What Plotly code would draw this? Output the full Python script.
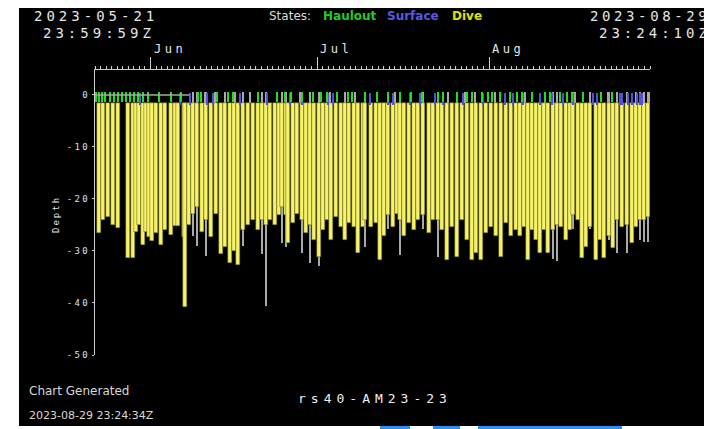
import pandas as pd
import plotly.graph_objects as go

# ---------------- data ----------------
start = "2023-05-22"

dive_days = [0.72, 1.44, 2.34, 3.24, 4.14, 5.95, 6.85, 7.39, 7.93, 8.65, 9.19, 9.73, 10.27, 10.99,
             11.89, 12.61, 13.69, 14.41, 14.95, 16.04, 16.22, 16.94, 17.66, 18.38, 19.28, 20.00, 20.90,
             21.80, 22.70, 23.42, 24.32, 25.05, 25.77, 26.67, 27.57, 28.47, 29.37, 30.09, 30.81, 31.53,
             32.43, 33.15, 33.69, 34.41, 34.77, 35.68, 36.40, 37.30, 38.02, 38.74, 39.46, 40.36, 41.08,
             41.80, 42.52, 43.42, 44.32, 45.05, 45.77, 46.67, 47.39, 48.29, 48.65, 49.73, 50.63, 51.35,
             52.07, 52.79, 53.69, 54.41, 54.95, 55.68, 56.58, 57.48, 58.20, 59.10, 60.18, 60.90, 61.80,
             62.52, 63.42, 64.32, 65.23, 66.13, 67.03, 67.93, 68.65, 69.55, 70.45, 71.35, 72.25, 73.15,
             74.05, 74.95, 75.86, 76.58, 77.30, 78.02, 78.74, 79.46, 80.18, 80.90, 81.62, 82.52, 83.24,
             83.96, 84.86, 85.59, 86.13, 87.03, 87.75, 88.47, 89.19, 90.27, 90.99, 91.71, 92.61, 93.33,
             94.05, 94.95, 95.86, 96.76, 97.48, 98.20, 98.92, 99.64]
dive_depth = [-26.5, -24.0, -23.5, -25.0, -25.6, -31.3, -31.3, -26.3, -25.0, -28.8, -26.3, -27.3, -28.0, -26.5,
              -28.8, -26.0, -27.0, -25.2, -25.2, -27.3, -40.8, -25.0, -22.8, -21.5, -26.3, -24.0, -27.3,
              -22.8, -30.5, -29.3, -32.4, -30.0, -32.7, -26.0, -25.0, -24.0, -26.0, -24.0, -25.0, -24.0,
              -25.0, -23.0, -21.5, -23.0, -28.5, -24.7, -22.8, -24.0, -26.6, -25.0, -27.9, -31.1, -26.0,
              -24.0, -27.9, -23.4, -25.3, -27.9, -24.7, -25.3, -30.4, -25.3, -24.0, -25.3, -24.7, -31.7,
              -27.2, -23.0, -25.3, -22.8, -24.0, -27.2, -24.7, -26.0, -24.0, -23.0, -26.6, -24.0, -24.0,
              -26.0, -31.7, -25.3, -31.1, -24.0, -27.9, -31.7, -30.4, -31.7, -26.6, -25.3, -27.2, -31.1,
              -24.7, -27.2, -26.0, -27.2, -25.3, -31.7, -26.0, -27.9, -30.4, -26.0, -30.4, -26.0, -25.0,
              -25.3, -27.9, -26.0, -23.0, -24.0, -31.4, -29.2, -25.3, -31.7, -27.9, -31.4, -27.2, -29.5,
              -24.0, -25.3, -25.0, -28.5, -25.3, -24.0, -24.0, -23.4]

surface_days = [17.66, 18.38, 19.82, 20.00, 21.62, 23.42, 25.23, 26.67, 27.93, 30.09, 30.81, 33.69, 34.41,
                36.94, 37.30, 38.74, 40.36, 42.34, 45.05, 46.85, 48.65, 52.79, 54.05, 54.95, 59.10, 61.80,
                63.60, 65.23, 66.67, 68.47, 72.07, 77.48, 81.08, 82.52, 83.24, 86.13, 86.49, 89.19, 92.43,
                92.61, 94.05, 95.86, 97.48, 98.20, 98.92, 99.64, 99.82]
surface_depth = [-27.2, -29.0, -1.6, -31.0, -1.6, -1.6, -1.6, -29.0, -1.6, -30.5, -40.5, -28.5, -29.2,
                 -1.6, -30.4, -32.4, -32.8, -1.6, -1.6, -1.6, -29.2, -25.8, -1.6, -30.8, -25.8, -31.1,
                 -1.6, -30.0, -1.6, -1.6, -1.6, -1.6, -1.6, -31.5, -32.0, -25.8, -1.6, -25.8, -1.6,
                 -27.9, -30.4, -30.4, -1.6, -27.9, -28.2, -28.2, -1.6]

haulout_days = [0.18, 0.72, 1.26, 1.80, 2.70, 3.42, 4.14, 4.86, 5.59, 6.31, 7.03, 7.75, 8.65, 9.55, 11.53,
                13.69, 15.50, 18.56, 19.10, 21.98, 23.96, 24.86, 29.37, 32.79, 34.23, 35.32, 37.30, 39.28,
                40.72, 41.80, 43.60, 45.59, 46.31, 48.65, 50.81, 52.79, 54.95, 56.94, 58.92, 61.80, 62.70,
                65.23, 67.03, 67.93, 69.73, 70.81, 71.53, 72.97, 74.77, 76.04, 76.94, 78.74, 81.08, 81.98,
                83.78, 85.05, 85.95, 87.93, 91.17, 93.15]

blue_days = [8.11, 15.32, 17.12, 20.18, 21.26, 26.13, 30.99, 35.14, 37.30, 41.98, 42.88, 49.55, 52.79,
             53.69, 56.76, 58.56, 61.26, 62.70, 66.31, 69.91, 73.87, 75.32, 77.12, 80.18, 82.34, 84.32,
             86.13, 89.73, 90.45, 94.59, 94.95, 96.04, 96.76, 97.66, 98.20, 98.56]

surface_line_days = [0.0, 17.0]

month_ticks = ["2023-06-01", "2023-07-01", "2023-08-01"]
month_labels = ["Jun", "Jul", "Aug"]
depth_ticks = [0, -10, -20, -30, -40, -50]
depth_labels = ["0", "-10", "-20", "-30", "-40", "-50"]

# ---------------- helpers ----------------
DAY_MS = 86400000
t0 = pd.Timestamp(start)


def to_dates(days):
    return [t0 + pd.to_timedelta(d, unit="D") for d in days]


OFF = 8                      # page margin of the html body
W, H = 704, 421
L, R, T, B = 87, 62, 62, 74
PW, PH = W - L - R, H - T - B


def px(x):                   # screen pixel -> paper
    return (x - OFF - L) / PW


def py(y):
    return (H - B - (y - OFF)) / PH


def spaced(s, sp):
    return f'<span style="letter-spacing:{sp}px">{s}</span>'


fig = go.Figure()

# surface (grey)
SURF_TOP = 0.5
fig.add_trace(go.Bar(
    x=to_dates(surface_days), y=[d - SURF_TOP for d in surface_depth], base=SURF_TOP,
    width=0.28 * DAY_MS, marker=dict(color="#a9a9a9", line=dict(width=0)), hoverinfo="skip"))

fig.add_trace(go.Scatter(x=to_dates(surface_line_days), y=[0, 0], mode="lines",
                         line=dict(color="#a9a9a9", width=1.5), hoverinfo="skip"))

# dives (yellow)
DIVE_TOP = -1.6
fig.add_trace(go.Bar(
    x=to_dates(dive_days), y=[d - DIVE_TOP for d in dive_depth], base=DIVE_TOP,
    width=0.72 * DAY_MS,
    marker=dict(color="#f6f26c", line=dict(width=0.5, color="#5e5d14")), hoverinfo="skip"))

# surface short marks (blue)
fig.add_trace(go.Bar(
    x=to_dates(blue_days), y=[-2.0 - 0.4] * len(blue_days), base=0.4,
    width=0.28 * DAY_MS, marker=dict(color="#5252d8", line=dict(width=0)), hoverinfo="skip"))

# haulout (green)
fig.add_trace(go.Bar(
    x=to_dates(haulout_days), y=[-1.3 - 0.6] * len(haulout_days), base=0.6,
    width=0.5 * DAY_MS, marker=dict(color="#1ee01e", line=dict(width=0)), hoverinfo="skip"))

axis_col = "#cfcfcf"
fig.update_layout(
    width=W, height=H, margin=dict(l=L, r=R, t=T, b=B, pad=0),
    paper_bgcolor="white", plot_bgcolor="rgba(0,0,0,0)",
    showlegend=False, barmode="overlay", bargap=0,
    xaxis=dict(type="date", side="top", range=["2023-05-22", "2023-08-30"],
               showgrid=False, zeroline=False, showline=True, linecolor=axis_col, linewidth=1,
               tickmode="array", tickvals=month_ticks, ticks="outside", ticklen=12, tickcolor=axis_col,
               tickwidth=1, showticklabels=False,
               minor=dict(dtick=DAY_MS, tick0="2023-05-22", ticks="outside", ticklen=3,
                          tickcolor=axis_col, tickwidth=1, showgrid=False)),
    yaxis=dict(range=[-50, 4.8], showgrid=False, zeroline=False, showline=True, linecolor=axis_col,
               linewidth=1, tickmode="array", tickvals=depth_ticks,
               ticktext=[spaced(t, 2.4) for t in depth_labels],
               ticks="outside", ticklen=2, tickcolor=axis_col,
               tickfont=dict(family="DejaVu Sans Mono", size=9, color="#e0e0e0")),
)

# black background panel
fig.add_shape(type="rect", xref="paper", yref="paper", x0=px(19), x1=px(712), y0=py(426), y1=py(7),
              fillcolor="black", line=dict(width=0), layer="below")
# bits of blue at bottom edge
for x0, x1 in [(380, 410), (433, 460), (478, 622)]:
    fig.add_shape(type="rect", xref="paper", yref="paper", x0=px(x0), x1=px(x1), y0=py(429), y1=py(426),
                  fillcolor="#2f8ff0", line=dict(width=0), layer="below")

ann = []
mono = "DejaVu Sans Mono"
sans = "DejaVu Sans"


def add_text(text, x, y, size, color="#e6e6e6", family=mono, xanchor="left", angle=0):
    ann.append(dict(text=text, x=px(x), y=py(y), xref="paper", yref="paper", xanchor=xanchor,
                    yanchor="middle", showarrow=False, textangle=angle,
                    font=dict(family=family, size=size, color=color)))


add_text(spaced("2023-05-21", 4), 32, 16, 14)
add_text(spaced("23:59:59Z", 4), 41, 33, 14)
add_text(spaced("2023-08-29", 3.6), 588, 16, 14)
add_text(spaced("23:24:10Z", 4), 597, 33, 14)

add_text("States:", 267, 16, 12, color="#dcdcdc", family=sans)
add_text("<b>Haulout</b>", 321, 16, 12, color="#22cc22", family=sans)
add_text("<b>Surface</b>", 385, 16, 12, color="#5a5ae0", family=sans)
add_text("<b>Dive</b>", 450, 16, 12, color="#e0e000", family=sans)

add_text("Chart Generated", 27, 391, 12, color="#d8d8d8", family=sans)
add_text("2023-08-29 23:24:34Z", 27, 415, 11, color="#d8d8d8", family=sans)
add_text(spaced("rs40-AM23-23", 5), 296, 398, 13, color="#f0f0f0")

add_text(spaced("Depth", 2), 56, 215, 9, angle=-90, xanchor="center")

for m, lab in zip(month_ticks, month_labels):
    ann.append(dict(text=spaced(lab, 3.5), x=m, y=py(49), xref="x", yref="paper", xanchor="left",
                    yanchor="middle", showarrow=False, xshift=1,
                    font=dict(family=mono, size=12, color="#e6e6e6")))

fig.update_layout(annotations=ann)

fig.write_html("out.html", config={"displayModeBar": False})
